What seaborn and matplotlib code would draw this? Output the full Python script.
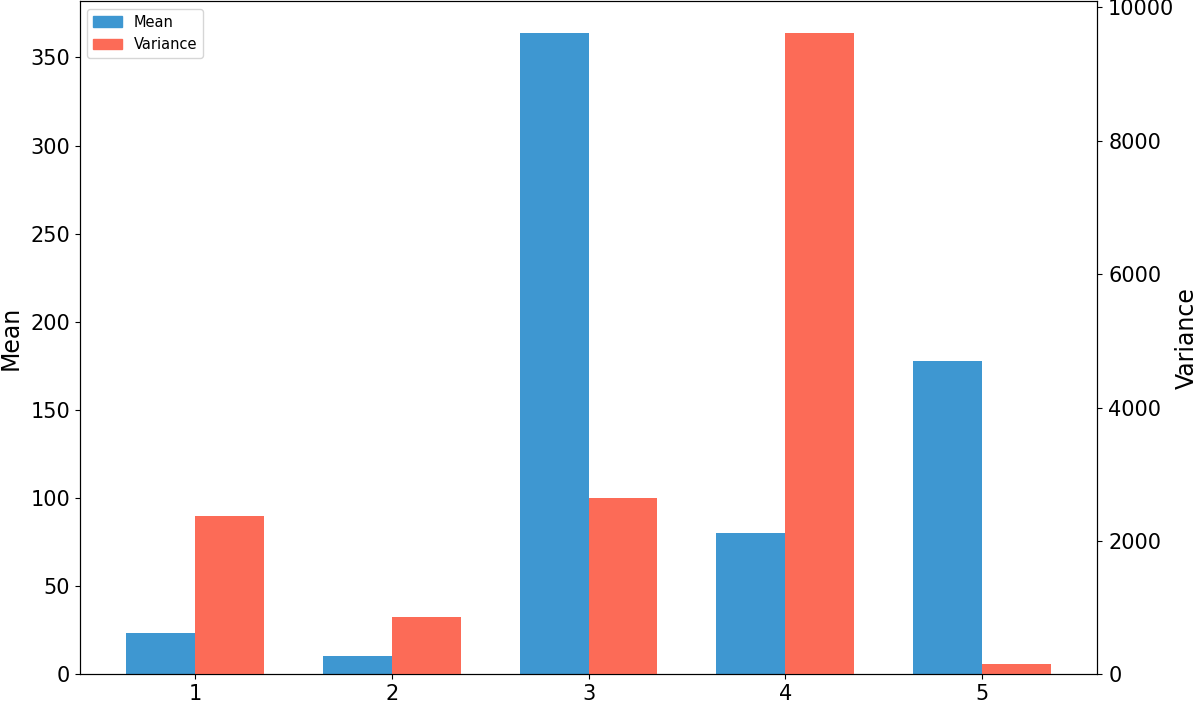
import pandas as pd
import matplotlib
matplotlib.use("Agg")
import matplotlib.pyplot as plt
from matplotlib.patches import Patch
import seaborn as sns

# values
groups = ["1", "2", "3", "4", "5"]
mean_vals = [23.3, 10.2, 363.6, 80.0, 177.5]
var_vals = [2370, 855, 2640, 9610, 150]

blue = "#3e97d1"
red = "#fc6b57"
order = ["Mean", "Variance"]

# each axis gets both series so the bars dodge; the other series is zero there
zeros = [0] * len(groups)
df_left = pd.DataFrame({"group": groups * 2, "value": mean_vals + zeros,
                        "series": ["Mean"] * 5 + ["Variance"] * 5})
df_right = pd.DataFrame({"group": groups * 2, "value": zeros + var_vals,
                         "series": ["Mean"] * 5 + ["Variance"] * 5})

fig = plt.figure(figsize=(12, 7.02), dpi=100)
ax1 = fig.add_axes([0.0667, 0.0395, 0.8475, 0.9585])
ax2 = ax1.twinx()

sns.barplot(data=df_left, x="group", y="value", hue="series", hue_order=order,
            palette=[blue, red], saturation=1, width=0.7, linewidth=0,
            legend=False, ax=ax1)
sns.barplot(data=df_right, x="group", y="value", hue="series", hue_order=order,
            palette=[blue, red], saturation=1, width=0.7, linewidth=0,
            legend=False, ax=ax2)

ax1.set_xlim(-0.585, 4.585)
ax1.set_ylim(0, 363.6 * 1.05)
ax2.set_ylim(0, 9610 * 1.05)
ax1.set_xlabel("")
ax1.set_ylabel("Mean", fontsize=17, labelpad=6)
ax2.set_ylabel("Variance", fontsize=17, labelpad=0)
ax1.tick_params(labelsize=15)
ax2.tick_params(labelsize=15, pad=4.5)

handles = [Patch(color=blue, label="Mean"), Patch(color=red, label="Variance")]
ax1.legend(handles=handles, loc="upper left", fontsize=10.5)

plt.savefig("out.png", dpi=100)
plt.close()
